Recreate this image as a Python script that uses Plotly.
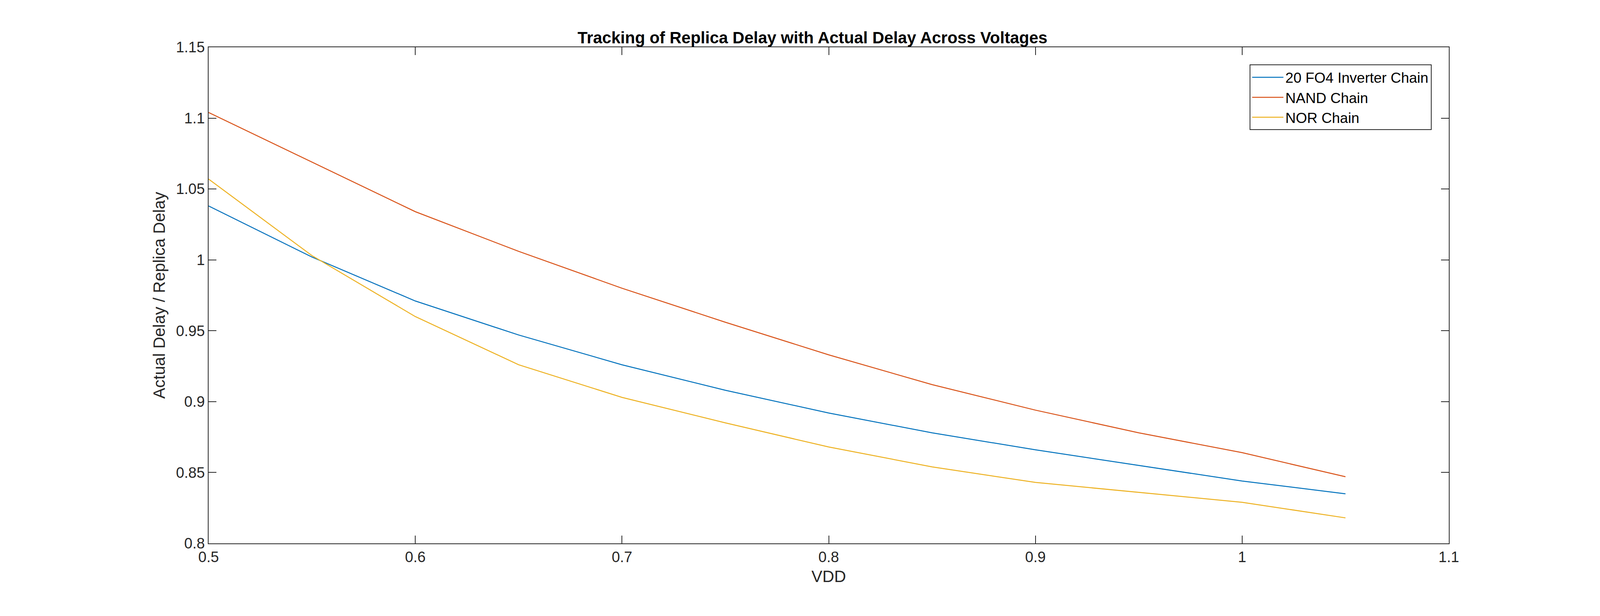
import plotly.graph_objects as go

vdd = [0.5, 0.55, 0.6, 0.65, 0.7, 0.75, 0.8, 0.85, 0.9, 0.95, 1.0, 1.05]
inv_chain = [1.038, 1.002, 0.971, 0.947, 0.926, 0.908, 0.892, 0.878, 0.866, 0.855, 0.844, 0.835]
nand_chain = [1.104, 1.069, 1.034, 1.006, 0.980, 0.956, 0.933, 0.912, 0.894, 0.878, 0.864, 0.847]
nor_chain = [1.057, 1.003, 0.960, 0.926, 0.903, 0.885, 0.868, 0.854, 0.843, 0.836, 0.829, 0.818]

series = [
    ("20 FO4 Inverter Chain", inv_chain, "#0072BD"),
    ("NAND Chain", nand_chain, "#D95319"),
    ("NOR Chain", nor_chain, "#EDB120"),
]

fig = go.Figure()
for name, vals, color in series:
    fig.add_trace(go.Scatter(x=vdd, y=vals, mode="lines", name=name,
                             line=dict(color=color, width=2.5)))

axis_style = dict(
    showgrid=False, zeroline=False, showline=True, linecolor="#262626",
    linewidth=2, mirror="ticks", ticks="inside", ticklen=20, tickwidth=2,
    tickcolor="#262626", tickfont=dict(size=38, color="#262626"),
)
fig.update_xaxes(range=[0.5, 1.1], dtick=0.1, tickformat="~g",
                 title=dict(text="VDD", font=dict(size=42, color="#262626")),
                 **axis_style)
fig.update_yaxes(range=[0.8, 1.15], dtick=0.05, tickformat="~g",
                 title=dict(text="Actual Delay / Replica Delay",
                            font=dict(size=42, color="#262626")),
                 **axis_style)

fig.update_layout(
    width=4144, height=1578,
    margin=dict(l=526, r=443, t=113, b=194),
    paper_bgcolor="white", plot_bgcolor="white",
    font=dict(family="Liberation Sans, Arial, sans-serif"),
    title=dict(text="<b>Tracking of Replica Delay with Actual Delay Across Voltages</b>",
               x=0.5, xanchor="center", y=0.935, yanchor="bottom",
               font=dict(size=42, color="black")),
    legend=dict(x=0.986, y=0.965, xanchor="right", yanchor="top",
                bordercolor="#262626", borderwidth=2, bgcolor="white",
                font=dict(size=37, color="black"), tracegroupgap=0,
                itemwidth=80),
)

fig.write_html("out.html")
